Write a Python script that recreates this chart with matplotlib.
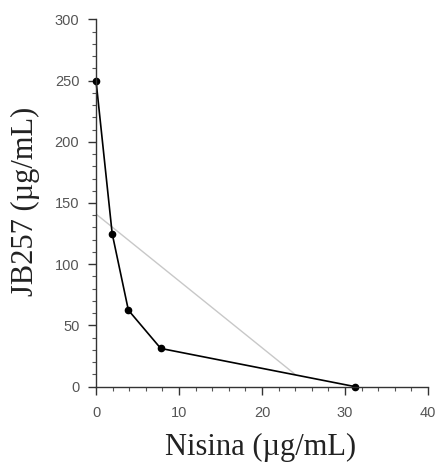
import matplotlib
matplotlib.use("Agg")
import matplotlib.pyplot as plt
from matplotlib.ticker import MultipleLocator

# Data
nisina = [0, 1.95, 3.9, 7.8, 31.25]
jb257 = [250, 125, 62.5, 31.25, 0]
additive_x = [0, 24]
additive_y = [141, 10]

fig = plt.figure(figsize=(4.36, 4.63), dpi=100)
ax = fig.add_axes([96/436, (463-386.7)/463, 332/436, (386.7-19.3)/463])

ax.plot(additive_x, additive_y, color="#c8c8c8", lw=1.0, zorder=1)
ax.plot(nisina, jb257, color="black", lw=1.2, marker="o", markersize=4.5, zorder=2, clip_on=False)

ax.set_xlim(0, 40)
ax.set_ylim(0, 300)
ax.xaxis.set_major_locator(MultipleLocator(10))
ax.xaxis.set_minor_locator(MultipleLocator(2))
ax.yaxis.set_major_locator(MultipleLocator(50))
ax.yaxis.set_minor_locator(MultipleLocator(10))

for s in ["top", "right"]:
    ax.spines[s].set_visible(False)
for s in ["left", "bottom"]:
    ax.spines[s].set_color("#333333")
    ax.spines[s].set_linewidth(1.0)

ax.tick_params(which="major", direction="out", length=6, width=1, color="#333333",
               labelsize=10.5, labelcolor="#555555")
ax.tick_params(axis="x", which="major", pad=8)
ax.tick_params(axis="y", which="major", pad=6)
ax.tick_params(which="minor", direction="out", length=3, width=0.8, color="#555555")
for lab in ax.get_xticklabels() + ax.get_yticklabels():
    lab.set_family("Liberation Sans")

ax.set_xlabel("Nisina (µg/mL)", family="Liberation Serif", fontsize=22, color="#222222")
ax.set_ylabel("JB257 (µg/mL)", family="Liberation Serif", fontsize=22, color="#222222")
ax.xaxis.set_label_coords(0.497, -0.126)
ax.yaxis.set_label_coords(-0.169, 0.504)

fig.savefig("out.png", dpi=100)
